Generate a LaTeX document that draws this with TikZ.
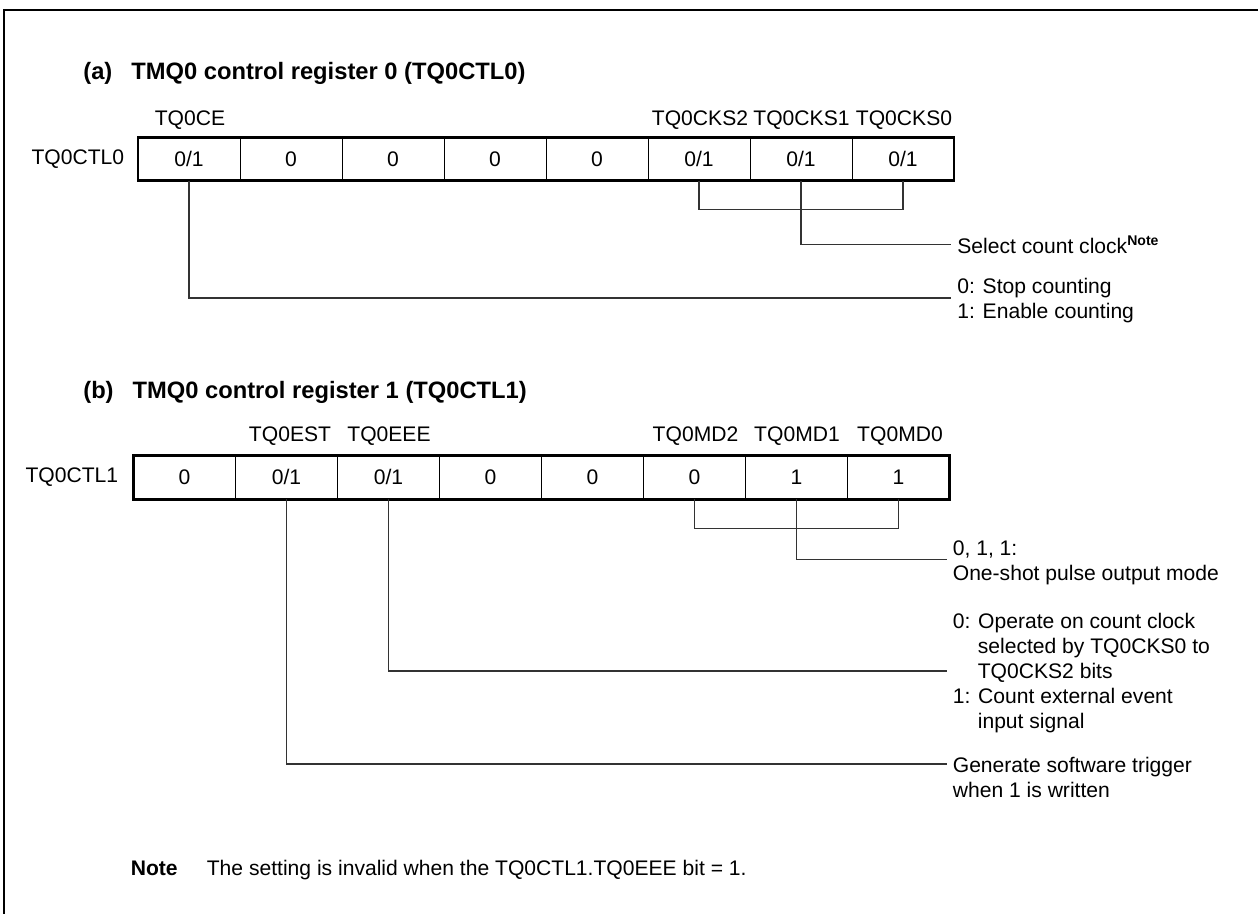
\documentclass[tikz,border=0pt]{standalone}
\usepackage{fontspec}
\setmainfont{Liberation Sans}
\usepackage{tikz}
\usetikzlibrary{positioning}
\newcommand\regfont{\fontsize{12}{14.23}\selectfont}

\begin{document}
\begin{tikzpicture}[font=\regfont,
  cell/.style={draw, line width=0.5pt, minimum width=2.04cm, minimum height=0.87cm, inner sep=0pt, outer sep=0pt, text height=0.3cm, text depth=0cm},
  regframe/.style={line width=1.7pt},
  bitname/.style={anchor=base, inner sep=0pt},
  regname/.style={inner sep=0pt},
  wire/.style={line width=0.6pt, black!80},
  desc/.style={anchor=west, align=left, inner xsep=0.12cm, inner ysep=0pt},
  heading/.style={anchor=base west, inner sep=0pt, font=\fontsize{13.5}{16}\selectfont\bfseries}]
\useasboundingbox (0,0) rectangle (25.16,-18.28);
% page frame, open at the right and at the bottom
\draw[line width=1.7pt] (25.4,-0.2) -- (0.08,-0.2) -- (0.08,-18.5);
% (a) control register 0
\node[heading] (ha) at (1.66,-1.6) {(a)\hspace{0.38cm}TMQ0 control register 0 (TQ0CTL0)};
\node[cell] (a7) at (3.78,-3.18) {0/1};
\node[cell, right=0cm of a7] (a6) {0};
\node[cell, right=0cm of a6] (a5) {0};
\node[cell, right=0cm of a5] (a4) {0};
\node[cell, right=0cm of a4] (a3) {0};
\node[cell, right=0cm of a3] (a2) {0/1};
\node[cell, right=0cm of a2] (a1) {0/1};
\node[cell, right=0cm of a1] (a0) {0/1};
\draw[regframe] (a7.north west) rectangle (a0.south east);
\node[regname, left=0.27cm of a7] (ctl0) {TQ0CTL0};
\node[bitname] (ce)   at (3.80,-2.51)  {TQ0CE};
\node[bitname] (cks2) at (14.00,-2.51) {TQ0CKS2};
\node[bitname] (cks1) at (16.03,-2.51) {TQ0CKS1};
\node[bitname] (cks0) at (18.08,-2.51) {TQ0CKS0};
% descriptions (a)
\node[desc] (selN)  at (19.02,-4.89) {Select count clock\textsuperscript{\bfseries Note}};
\node[desc] (stopN) at (19.02,-6.02) {0: Stop counting\\1: Enable counting};
\draw[wire] (a2.south) -- ++(0,-0.58) -| (a0.south);
\draw[wire] (a1.south) |- (selN.west);
\draw[wire] (a7.south) |- ([yshift=0.06cm]stopN.west);
% (b) control register 1
\node[heading] (hb) at (1.66,-7.98) {(b)\hspace{0.38cm}TMQ0 control register 1 (TQ0CTL1)};
\node[cell] (b7) at (3.69,-9.55) {0};
\node[cell, right=0cm of b7] (b6) {0/1};
\node[cell, right=0cm of b6] (b5) {0/1};
\node[cell, right=0cm of b5] (b4) {0};
\node[cell, right=0cm of b4] (b3) {0};
\node[cell, right=0cm of b3] (b2) {0};
\node[cell, right=0cm of b2] (b1) {1};
\node[cell, right=0cm of b1] (b0) {1};
\draw[regframe] (b7.north west) rectangle (b0.south east);
\node[regname, left=0.3cm of b7] (ctl1) {TQ0CTL1};
\node[bitname] (est) at (5.80,-8.83)  {TQ0EST};
\node[bitname] (eee) at (7.78,-8.83)  {TQ0EEE};
\node[bitname] (md2) at (13.91,-8.83) {TQ0MD2};
\node[bitname] (md1) at (15.94,-8.83) {TQ0MD1};
\node[bitname] (md0) at (18.00,-8.83) {TQ0MD0};
% descriptions (b)
\node[desc] (oneN) at (18.93,-11.25) {0, 1, 1:\\One-shot pulse output mode};
\node[desc] (eeeN) at (18.93,-13.46) {0: Operate on count clock\\\hspace*{0.5cm}selected by TQ0CKS0 to\\\hspace*{0.5cm}TQ0CKS2 bits\\1: Count external event\\\hspace*{0.5cm}input signal};
\node[desc] (genN) at (18.93,-15.55) {Generate software trigger\\when 1 is written};
\draw[wire] (b2.south) -- ++(0,-0.58) -| (b0.south);
\draw[wire] (b1.south) |- ([yshift=0.06cm]oneN.west);
\draw[wire] (b5.south) |- ([yshift=0.04cm]eeeN.west);
\draw[wire] (b6.south) |- ([yshift=0.27cm]genN.west);
% note
\node[anchor=base west, inner sep=0pt, font=\regfont\bfseries] (noteH) at (2.61,-17.51) {Note};
\node[anchor=base west, inner sep=0pt] (noteT) at (4.13,-17.51) {The setting is invalid when the TQ0CTL1.TQ0EEE bit = 1.};
\end{tikzpicture}
\end{document}
